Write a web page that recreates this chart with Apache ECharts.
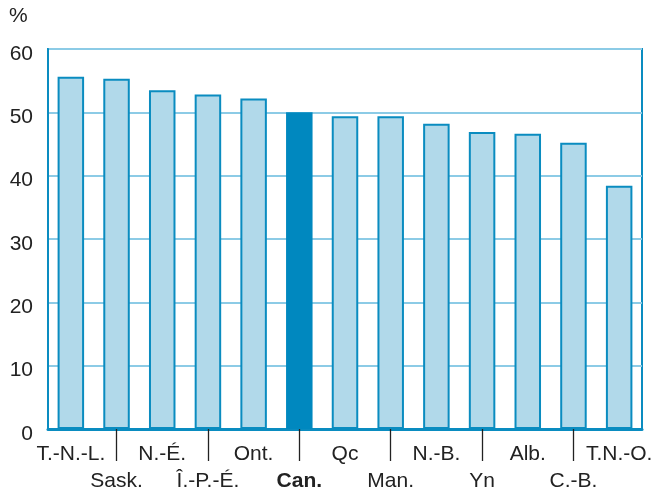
<!DOCTYPE html>
<html><head><meta charset="utf-8">
<script src="https://cdn.jsdelivr.net/npm/echarts@6/dist/echarts.min.js"></script>
<style>html,body{margin:0;padding:0;background:#fff}#c{width:654px;height:493px}</style>
</head><body><div id="c"></div>
<script>
const categories = ['T.-N.-L.','Sask.','N.-É.','Î.-P.-É.','Ont.','Can.','Qc','Man.','N.-B.','Yn','Alb.','C.-B.','T.N.-O.'];
const values = [55.6, 55.3, 53.5, 52.8, 52.2, 50.0, 49.4, 49.4, 48.2, 46.9, 46.6, 45.2, 38.4];
const yTicks = [0, 10, 20, 30, 40, 50, 60];
const highlight = 'Can.';

const FONT = '"Liberation Sans Narrow", "Liberation Sans", sans-serif';
const chart = echarts.init(document.getElementById('c'));
chart.setOption({
  animation: false,
  grid: {left: 48, right: 12, top: 49, bottom: 64, outerBoundsMode: 'none', containLabel: false,
    show: true, borderColor: '#0a8cc0', borderWidth: 2, backgroundColor: 'transparent'},
  graphic: [{type: 'text', left: 9, top: 6, style: {text: '%', font: '21px ' + FONT, fill: '#222'}}],
  xAxis: {
    type: 'category', data: categories,
    axisLine: {lineStyle: {color: '#0a8cc0', width: 3}},
    axisTick: {show: true, alignWithLabel: true, length: 32, interval: (i) => i % 2 === 1, lineStyle: {color: '#222', width: 1.3}},
    axisLabel: {
      interval: 0, margin: 12, color: '#222', fontFamily: FONT, fontSize: 21, lineHeight: 27,
      formatter: (v, i) => {
        const t = v === highlight ? '{b|' + v + '}' : v;
        return i % 2 === 0 ? t + '\n ' : ' \n' + t;
      },
      rich: {b: {fontWeight: 'bold', fontFamily: FONT, fontSize: 21, color: '#222'}}
    }
  },
  yAxis: {
    type: 'value', min: yTicks[0], max: yTicks[yTicks.length - 1], interval: 10,
    axisLine: {show: true, lineStyle: {color: '#0a8cc0', width: 2}},
    axisTick: {show: false},
    axisLabel: {color: '#222', fontFamily: FONT, fontSize: 21, margin: 15,
      formatter: (v) => '{a|' + v + '}',
      rich: {a: {fontFamily: FONT, fontSize: 21, color: '#222', padding: [10, 0, 0, 0]}}},
    splitLine: {lineStyle: {color: '#8ccbe6', width: 2}}
  },
  series: [{
    type: 'bar', barWidth: '58%',
    data: values.map((v, i) => categories[i] === highlight
      ? {value: v, itemStyle: {color: '#0088bf', borderColor: '#0088bf', borderWidth: 0}}
      : {value: v}),
    itemStyle: {color: '#b1d9ea', borderColor: '#0a8cc0', borderWidth: 2}
  }]
});
</script></body></html>
